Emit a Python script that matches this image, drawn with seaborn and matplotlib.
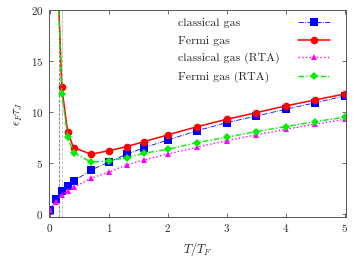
import numpy as np
import pandas as pd
import seaborn as sns
import matplotlib
matplotlib.use('Agg')
import matplotlib.pyplot as plt

# temperatures (T/T_F)
T_all = [0, 0.1, 0.2, 0.3, 0.4, 0.7, 1.0, 1.3, 1.6, 2.0, 2.5, 3.0, 3.5, 4.0, 4.5, 5.0]
T_fermi = T_all[1:]

classical = [0.4, 1.5, 2.2, 2.7, 3.2, 4.3, 5.1, 5.85, 6.5, 7.25, 8.17, 8.95, 9.6, 10.26, 10.9, 11.57]
fermi = [28, 12.4, 8.0, 6.5, 5.85, 6.2, 6.6, 7.09, 7.75, 8.56, 9.28, 9.93, 10.59, 11.18, 11.76]
classical_rta = [0.4, 1.2, 1.86, 2.25, 2.6, 3.5, 4.1, 4.8, 5.3, 5.88, 6.54, 7.19, 7.75, 8.3, 8.8, 9.28]
fermi_rta = [28, 11.8, 7.5, 6.0, 5.07, 5.2, 5.52, 5.95, 6.34, 7.0, 7.52, 8.07, 8.56, 9.05, 9.48]

# critical temperatures marked with vertical lines
Tc_lines = [0.15, 0.21]

sns.set_style('ticks')
plt.rcParams['font.family'] = 'serif'
plt.rcParams['font.serif'] = ['cmr10', 'DejaVu Serif']
plt.rcParams['mathtext.fontset'] = 'cm'
plt.rcParams['axes.formatter.use_mathtext'] = True

fig = plt.figure(figsize=(3.54, 2.57), dpi=100)
ax = fig.add_axes([0.138, 0.156, 0.839, 0.805])

ax.axvline(Tc_lines[0], color='#777777', lw=0.6, ls='--', zorder=1)
ax.axvline(Tc_lines[1], color='#bbbbbb', lw=0.6, ls='--', zorder=1)

sns.lineplot(x=T_all, y=classical, ax=ax, color='#0000ff', lw=0.6, ls='-.',
             marker='s', markersize=5.5, markeredgewidth=0, label='classical gas')
sns.lineplot(x=T_fermi, y=fermi, ax=ax, color='#ff0000', lw=1.1, ls='-',
             marker='o', markersize=5.5, markeredgewidth=0, label='Fermi gas')
sns.lineplot(x=T_all, y=classical_rta, ax=ax, color='#ff00ff', lw=1.0, ls=':',
             marker='^', markersize=4.5, markeredgewidth=0, label='classical gas (RTA)')
sns.lineplot(x=T_fermi, y=fermi_rta, ax=ax, color='#00ee00', lw=1.0, ls=(0, (4, 1.5, 1, 1.5)),
             marker='D', markersize=4, markeredgewidth=0, label='Fermi gas (RTA)')

ax.set_xlim(-0.02, 5.02)
ax.set_ylim(-0.3, 20)
ax.set_xticks([0, 1, 2, 3, 4, 5])
ax.set_yticks([0, 5, 10, 15, 20])
ax.tick_params(direction='in', top=True, right=True, length=3, width=0.6,
               labelsize=8, color='#555555', pad=4)
for s in ax.spines.values():
    s.set_color('#555555')
    s.set_linewidth(0.7)

ax.set_xlabel(r'$T/T_F$', fontsize=9)
ax.set_ylabel(r'$\epsilon_F\tau_J$', fontsize=9)

leg = ax.legend(loc='upper right', bbox_to_anchor=(0.964, 0.985), frameon=False,
                markerfirst=False, fontsize=8.6, handlelength=2.75, handletextpad=1.5,
                labelspacing=0.6, borderaxespad=0)

# left-align the labels while keeping the handles in one column
fig.canvas.draw()
renderer = fig.canvas.get_renderer()
widths = [t.get_window_extent(renderer).width for t in leg.get_texts()]
maxw = max(widths)
rows = [box for col in leg._legend_handle_box.get_children() for box in col.get_children()]
for box, w in zip(rows, widths):
    box.sep = box.sep + (maxw - w) * 72.0 / fig.dpi

fig.savefig('out.png', dpi=100)
